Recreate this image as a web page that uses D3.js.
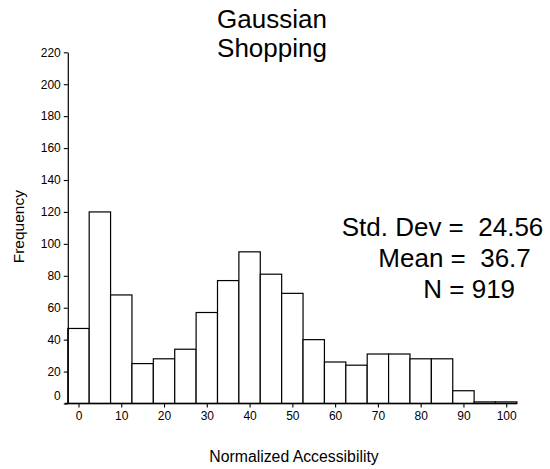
<!DOCTYPE html>
<html>
<head>
<meta charset="utf-8">
<script src="https://cdn.jsdelivr.net/npm/d3@7"></script>
<style>
  html, body { margin: 0; padding: 0; background: #fff; }
  svg { display: block; font-family: "Liberation Sans", Arial, sans-serif; }
  text { white-space: pre; }
</style>
</head>
<body>
<svg id="chart" width="550" height="469"></svg>
<script>
// Data
const binCenters = [0, 5, 10, 15, 20, 25, 30, 35, 40, 45, 50, 55, 60, 65, 70, 75, 80, 85, 90, 95, 100];
const frequencies = [47, 120, 68, 25, 28, 34, 57, 77, 95, 81, 69, 40, 26, 24, 31, 31, 28, 28, 8, 1, 1];
const binWidth = 5;
const xTicks = [0, 10, 20, 30, 40, 50, 60, 70, 80, 90, 100];
const yTicks = [0, 20, 40, 60, 80, 100, 120, 140, 160, 180, 200, 220];
const titleLines = ["Gaussian", "Shopping"];
const statLines = ["Std. Dev =  24.56", "Mean =  36.7", "N = 919"];
const xLabel = "Normalized Accessibility";
const yLabel = "Frequency";

const svg = d3.select("#chart");

const x = d3.scaleLinear().domain([-2.5, 102.5]).range([67.8, 516.9]);
const y = d3.scaleLinear().domain([0, 220]).range([403.5, 52.3]);

// Bars
svg.append("g")
  .selectAll("rect")
  .data(binCenters.map((c, i) => ({ c, v: frequencies[i] })))
  .join("rect")
  .attr("x", d => x(d.c - binWidth / 2))
  .attr("width", d => x(d.c + binWidth / 2) - x(d.c - binWidth / 2))
  .attr("y", d => y(d.v))
  .attr("height", d => y(0) - y(d.v))
  .attr("fill", "#fff")
  .attr("stroke", "#000")
  .attr("stroke-width", 1.2);

// Y axis
const yAxis = svg.append("g")
  .attr("transform", `translate(${x(-2.5)},0)`)
  .call(d3.axisLeft(y).tickValues(yTicks).tickSize(4).tickPadding(3).tickSizeOuter(0));
yAxis.attr("font-size", 12).attr("font-family", "Liberation Sans, Arial, sans-serif");
yAxis.selectAll("text").attr("fill", "#000");
yAxis.selectAll(".tick").filter(d => d === 0).select("text").attr("dy", "-0.35em");
yAxis.select(".domain").attr("stroke-width", 1.2);
yAxis.selectAll(".tick line").attr("stroke-width", 1.1);

// X axis
const xAxis = svg.append("g")
  .attr("transform", `translate(0,${y(0)})`)
  .call(d3.axisBottom(x).tickValues(xTicks).tickSize(4).tickPadding(4).tickSizeOuter(0));
xAxis.attr("font-size", 12).attr("font-family", "Liberation Sans, Arial, sans-serif");
xAxis.select(".domain")
  .attr("d", `M${x(-2.5) - 3},0H${x(102.5)}`)
  .attr("stroke-width", 1.5);
xAxis.selectAll("text").attr("fill", "#000");
xAxis.selectAll(".tick line").attr("stroke-width", 1.1);

// Title
svg.append("g")
  .selectAll("text")
  .data(titleLines)
  .join("text")
  .attr("x", 272)
  .attr("y", (d, i) => 27.7 + i * 29)
  .attr("text-anchor", "middle")
  .attr("font-size", 26)
  .attr("fill", "#000")
  .text(d => d);

// Statistics
const statX = [341.7, 378.3, 423.3];
svg.append("g")
  .selectAll("text")
  .data(statLines)
  .join("text")
  .attr("x", (d, i) => statX[i])
  .attr("y", (d, i) => 235.7 + i * 31)
  .attr("font-size", 26)
  .attr("fill", "#000")
  .text(d => d);

// Axis labels
svg.append("text")
  .attr("x", 294)
  .attr("y", 462.3)
  .attr("text-anchor", "middle")
  .attr("font-size", 15.8)
  .attr("fill", "#000")
  .text(xLabel);

svg.append("text")
  .attr("transform", "translate(24.3,226.7) rotate(-90)")
  .attr("text-anchor", "middle")
  .attr("font-size", 15.5)
  .attr("fill", "#000")
  .text(yLabel);
</script>
</body>
</html>
